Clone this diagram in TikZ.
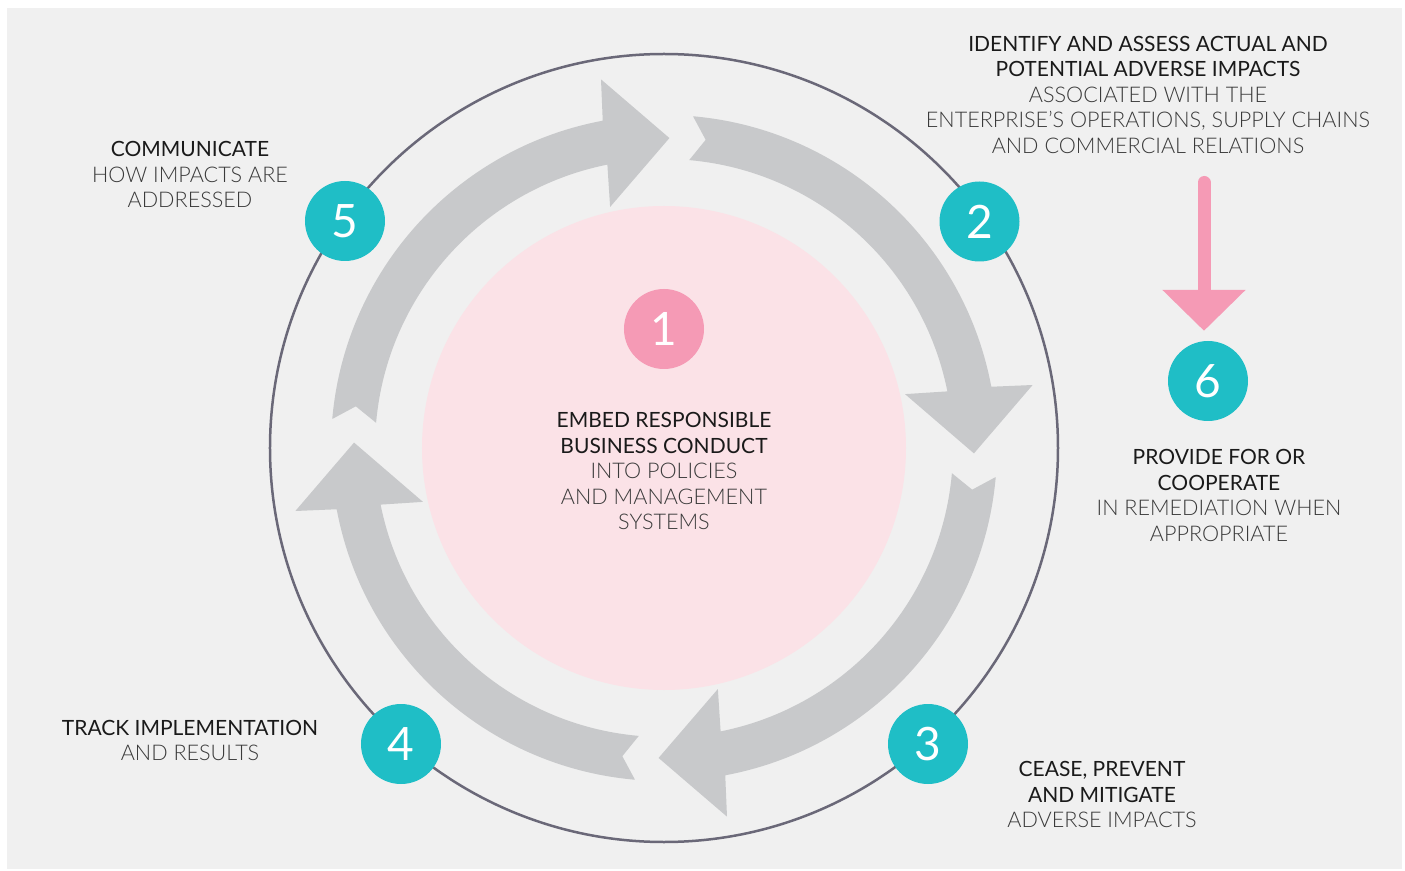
\documentclass[tikz,border=0pt]{standalone}
\usepackage{fontspec}
\setmainfont{Lato}
\newfontfamily\lightfont{Lato Light}
\usetikzlibrary{arrows.meta}
\definecolor{bg}{HTML}{F0F0F0}
\definecolor{ringline}{HTML}{6A6878}
\definecolor{arrowgray}{HTML}{C8C9CB}
\definecolor{blush}{HTML}{FBE2E7}
\definecolor{rose}{HTML}{F59AB5}
\definecolor{stepteal}{HTML}{1FBEC6}
\definecolor{ink}{HTML}{1A1A1A}
\definecolor{softink}{HTML}{3A3A3A}
% lighter, slightly wider secondary lines
\newcommand\sublines[1]{{\lightfont\fontsize{21.6}{25.5}\selectfont\color{softink}#1}}
\begin{document}
\begin{tikzpicture}[x=1pt,y=1pt,
  num/.style={circle, minimum size=80pt, inner sep=0pt, text=white,
    font=\fontsize{46}{46}\selectfont},
  txt/.style={align=center, inner sep=0pt, text=ink,
    font=\fontsize{21}{25.5}\selectfont}]
\useasboundingbox (-664,-422) rectangle (741,448);
\fill[bg] (-657,440) rectangle (738,-421);

% central disc and outer ring
\fill[blush] (0,0) circle[radius=242];
\draw[ringline, line width=2.5pt] (0,0) circle[radius=394];

% four curved gray arrows running clockwise
\foreach \r in {0,-90,-180,-270}
  \fill[arrowgray] (85+\r:333) -- (82.3+\r:311) -- (85+\r:289)
    arc[start angle=85+\r, end angle=11.3+\r, radius=289]
    -- (12.6+\r:247) -- (-1+\r:310) -- (9.7+\r:374) -- (10.6+\r:333)
    arc[start angle=10.6+\r, end angle=85+\r, radius=333] -- cycle;

% numbered steps
\node[num, fill=rose] (n1) at (0,119) {1};
\node[num, fill=stepteal] (n2) at (315.5,226.5) {2};
\node[num, fill=stepteal] (n3) at (264,-296) {3};
\node[num, fill=stepteal] (n4) at (-263,-296) {4};
\node[num, fill=stepteal] (n5) at (-319,227) {5};
\node[num, fill=stepteal] (n6) at (544,67) {6};

% pink arrow towards step 6
\coordinate (pinktop) at (540,265.5);
\draw[rose, line width=13pt, line cap=round,
  -{Triangle[width=81pt,length=41pt]}, shorten >=10pt]
  (pinktop) -- (pinktop |- n6.north);

% step descriptions
\node[txt] (t5) at (-474,273.5) {COMMUNICATE\\\sublines{HOW IMPACTS ARE}\\\sublines{ADDRESSED}};
\node[txt] (t2) at (484,353.5) {IDENTIFY AND ASSESS ACTUAL AND\\POTENTIAL ADVERSE IMPACTS\\\sublines{ASSOCIATED WITH THE}\\\sublines{ENTERPRISE’S OPERATIONS, SUPPLY CHAINS}\\\sublines{AND COMMERCIAL RELATIONS}};
\node[txt] (t1) at (0,-23) {EMBED RESPONSIBLE\\BUSINESS CONDUCT\\\sublines{INTO POLICIES}\\\sublines{AND MANAGEMENT}\\\sublines{SYSTEMS}};
\node[txt] (t6) at (555,-47.5) {PROVIDE FOR OR\\COOPERATE\\\sublines{IN REMEDIATION WHEN}\\\sublines{APPROPRIATE}};
\node[txt] (t4) at (-474,-292.5) {TRACK IMPLEMENTATION\\\sublines{AND RESULTS}};
\node[txt] (t3) at (438,-346.5) {CEASE, PREVENT\\AND MITIGATE\\\sublines{ADVERSE IMPACTS}};
\end{tikzpicture}
\end{document}
